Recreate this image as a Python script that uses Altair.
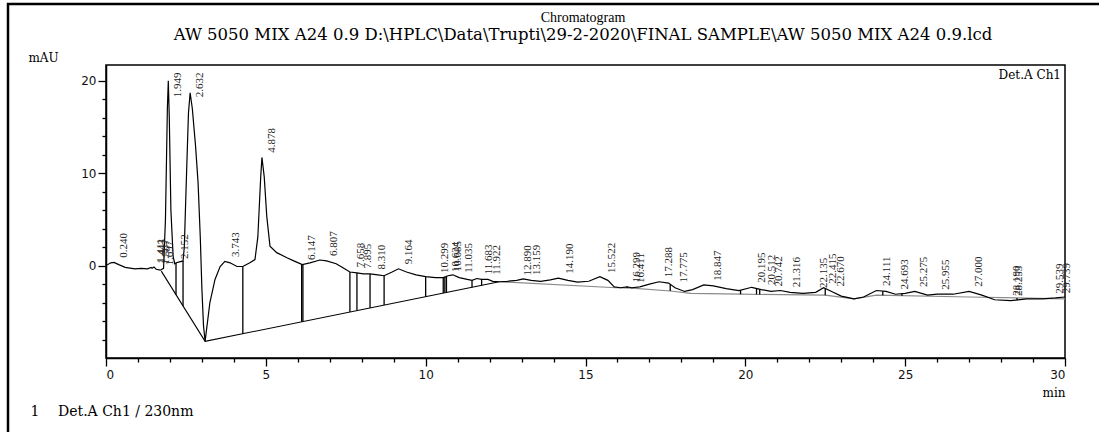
import altair as alt
import numpy as np
import pandas as pd

# Detector trace (retention time in min, absorbance in mAU)
trace_t = [0.00, 0.15, 0.25, 0.40, 0.60, 0.90, 1.10, 1.30, 1.41, 1.44, 1.50, 1.57, 1.70, 1.80,
           1.86, 1.92, 1.949, 1.98, 2.03, 2.10, 2.15, 2.20, 2.30, 2.41, 2.45, 2.52, 2.58, 2.632,
           2.70, 2.80, 2.88, 2.95, 3.00, 3.05, 3.10, 3.25, 3.41, 3.57, 3.72, 3.88, 4.10, 4.28,
           4.50, 4.66, 4.75, 4.84, 4.878, 4.95, 5.03, 5.13, 5.34, 5.66, 5.91, 6.14, 6.38, 6.69,
           6.90, 7.20, 7.40, 7.63, 7.85, 8.05, 8.26, 8.50, 8.70, 8.95, 9.15, 9.40, 9.70, 10.00,
           10.30, 10.55, 10.70, 10.85, 11.05, 11.30, 11.45, 11.60, 11.75, 11.95, 12.10, 12.30,
           12.55, 12.85, 13.05, 13.30, 13.60, 13.90, 14.15, 14.45, 14.75, 15.10, 15.45, 15.70,
           15.90, 16.10, 16.30, 16.45, 16.70, 17.00, 17.30, 17.60, 17.80, 18.10, 18.35, 18.70,
           19.00, 19.40, 19.80, 20.20, 20.50, 20.80, 21.10, 21.40, 21.80, 22.20, 22.45, 22.70,
           23.00, 23.40, 23.70, 24.10, 24.40, 24.70, 25.00, 25.30, 25.70, 26.00, 26.50, 27.00,
           27.40, 27.80, 28.30, 28.80, 29.30, 29.70, 30.00]
trace_mau = [0.0, 0.3, 0.35, 0.1, -0.2, -0.35, -0.3, -0.35, -0.2, -0.3, -0.15, -0.4, -0.5, -0.3,
             5.0, 17.0, 20.0, 16.0, 6.0, 1.0, 0.2, 0.3, 0.4, 0.5, 2.0, 10.0, 16.5, 18.7,
             17.0, 13.0, 9.0, 3.0, -2.5, -6.5, -8.2, -4.0, -1.5, -0.1, 0.45, 0.3, -0.1, -0.1,
             0.3, 0.65, 3.1, 9.6, 11.7, 9.6, 5.3, 2.1, 1.4, 0.85, 0.45, 0.1, 0.3, 0.6,
             0.5, 0.2, -0.2, -0.7, -0.8, -0.9, -0.9, -1.0, -1.1, -0.7, -0.35, -0.7, -1.0, -1.2,
             -1.3, -1.3, -1.1, -1.0, -1.3, -1.5, -1.6, -1.4, -1.5, -1.5, -1.7, -1.75,
             -1.7, -1.6, -1.45, -1.6, -1.7, -1.55, -1.35, -1.6, -1.8, -1.7, -1.2, -1.6,
             -2.3, -2.4, -2.3, -2.4, -2.3, -2.0, -1.75, -1.9, -2.4, -2.8, -2.6, -2.1,
             -2.2, -2.5, -2.7, -2.35, -2.6, -2.8, -2.7, -2.9, -3.0, -2.9, -2.4, -2.8,
             -3.3, -3.6, -3.4, -2.7, -2.8, -3.1, -3.0, -2.8, -3.2, -3.1, -3.1, -2.8,
             -3.2, -3.7, -3.8, -3.6, -3.6, -3.5, -3.4]

# Integration baselines
base1_t = [1.73, 3.10, 12.30]
base1_mau = [-0.6, -8.2, -1.75]
base2_t = [12.30, 15.95, 16.45, 17.65, 18.30, 19.85, 22.50, 23.40, 24.10, 27.00, 30.00]
base2_mau = [-1.75, -2.4, -2.45, -2.75, -3.0, -3.1, -3.2, -3.6, -3.2, -3.4, -3.6]

# Peak start/end markers (drop lines)
drop_t = [2.19, 2.41, 4.28, 6.12, 6.16, 7.63, 7.85, 8.26, 8.70, 10.00, 10.55, 10.60, 10.65,
          11.45, 11.75, 16.30, 16.45, 17.65, 19.85, 20.35, 20.45, 22.50, 24.30, 24.90, 28.50]

# Retention times of detected peaks
peak_rt = [0.240, 1.411, 1.443, 1.567, 1.697, 1.949, 2.152, 2.632, 3.743, 4.878, 6.147, 6.807,
           7.658, 7.895, 8.310, 9.164, 10.299, 10.624, 10.685, 11.035, 11.683, 11.922, 12.890,
           13.159, 14.190, 15.522, 16.299, 16.411, 17.288, 17.775, 18.847, 20.195, 20.512,
           20.742, 21.316, 22.135, 22.415, 22.670, 24.111, 24.693, 25.275, 25.955, 27.000,
           28.190, 28.253, 29.539, 29.739]

title_lines = ["Chromatogram",
               "AW 5050 MIX A24 0.9 D:\\HPLC\\Data\\Trupti\\29-2-2020\\FINAL SAMPLE\\AW 5050 MIX A24 0.9.lcd"]
channel_label = "Det.A Ch1"
footer_index = "1"
footer_label = "Det.A Ch1 / 230nm"

SERIF = "Liberation Serif"
WIDE_SERIF = "DejaVu Serif"
SANS = "DejaVu Sans"

trace = pd.DataFrame({"t": trace_t, "v": trace_mau})
base1 = pd.DataFrame({"t": base1_t, "v": base1_mau})
base2 = pd.DataFrame({"t": base2_t, "v": base2_mau})
base_all_t = base1_t[:-1] + base2_t
base_all_v = base1_mau[:-1] + base2_mau
drops = pd.DataFrame({
    "t": drop_t,
    "v": np.interp(drop_t, trace_t, trace_mau),
    "v2": np.interp(drop_t, base_all_t, base_all_v),
})
peaks = pd.DataFrame({
    "t": peak_rt,
    "v": np.minimum(np.interp(peak_rt, trace_t, trace_mau) + 0.5, 18.2),
    "label": [f"{r:.3f}" for r in peak_rt],
})

x_axis = alt.Axis(
    values=list(range(0, 31)),
    labelExpr="datum.value % 5 === 0 ? datum.label : ''",
    tickSize={"condition": {"test": "datum.value % 5 === 0", "value": 8}, "value": 4},
    grid=False, domainColor="black", domainWidth=1.5, tickColor="black", tickWidth=1.3,
    labelFont=SANS, labelFontSize=12, labelColor="#111", labelPadding=3,
    title="min", titleFont=WIDE_SERIF, titleFontSize=12, titleFontWeight="normal",
    titleAlign="right", titleX=959, titleY=34, titleBaseline="middle", titleColor="black",
)
y_axis = alt.Axis(
    values=list(range(-8, 21, 2)),
    labelExpr="datum.value % 10 === 0 ? datum.label : ''",
    tickSize={"condition": {"test": "datum.value % 10 === 0", "value": 8}, "value": 4},
    grid=False, domainColor="black", domainWidth=1.5, tickColor="black", tickWidth=1.3,
    labelFont=SANS, labelFontSize=12, labelColor="#111", labelPadding=2,
    title="mAU", titleFont=WIDE_SERIF, titleFontSize=12, titleFontWeight="normal",
    titleAngle=0, titleX=-63, titleY=-8, titleAlign="center", titleBaseline="middle",
    titleColor="black",
)
X = alt.X("t:Q", scale=alt.Scale(domain=[0, 30], nice=False, zero=False), axis=x_axis)
Y = alt.Y("v:Q", scale=alt.Scale(domain=[-10, 21.7], nice=False, zero=False), axis=y_axis)

line = alt.Chart(trace).mark_line(color="black", strokeWidth=1.2, clip=True).encode(x=X, y=Y)
bl1 = alt.Chart(base1).mark_line(color="black", strokeWidth=1.1).encode(x=X, y=Y)
bl2 = alt.Chart(base2).mark_line(color="#8a8a8a", strokeWidth=1.2).encode(x=X, y=Y)
drop_rules = alt.Chart(drops).mark_rule(color="black", strokeWidth=1.3).encode(x=X, y=Y, y2="v2:Q")
labels = alt.Chart(peaks).mark_text(
    angle=270, align="left", baseline="middle", dy=10, font=SERIF, fontSize=11, color="#222"
).encode(x=X, y=Y, text="label:N")

# Header, channel name, footer and page frame
ann = pd.DataFrame({"k": [0]})
def note(text, x, y, size=13, align="center", font=SERIF):
    return alt.Chart(ann).mark_text(
        text=text, font=font, fontSize=size, align=align, baseline="middle", color="black"
    ).encode(x=alt.value(x), y=alt.value(y))

header1 = note(title_lines[0], 477, -47, 14)
header2 = note(title_lines[1], 477, -30, 16.5, font=WIDE_SERIF)
chan = note(channel_label, 955, 10, 12, "right", WIDE_SERIF)
foot1 = note(footer_index, -71, 347, 14, font=WIDE_SERIF)
foot2 = note(footer_label, -48, 347, 14, "left", WIDE_SERIF)
frame = alt.Chart(ann).mark_rect(filled=False, stroke="black", strokeWidth=2.5).encode(
    x=alt.value(-98), x2=alt.value(1010), y=alt.value(-61), y2=alt.value(380))

chart = alt.layer(
    frame, bl1, bl2, drop_rules, line, labels, header1, header2, chan, foot1, foot2
).properties(
    width=959, height=293,
    autosize=alt.AutoSizeParams(type="none"),
    padding={"left": 106, "top": 65, "right": 34, "bottom": 74},
    background="white",
).configure_view(stroke="black", strokeWidth=1.5)

chart.save("out.html", embed_options={"renderer": "svg", "actions": False})
